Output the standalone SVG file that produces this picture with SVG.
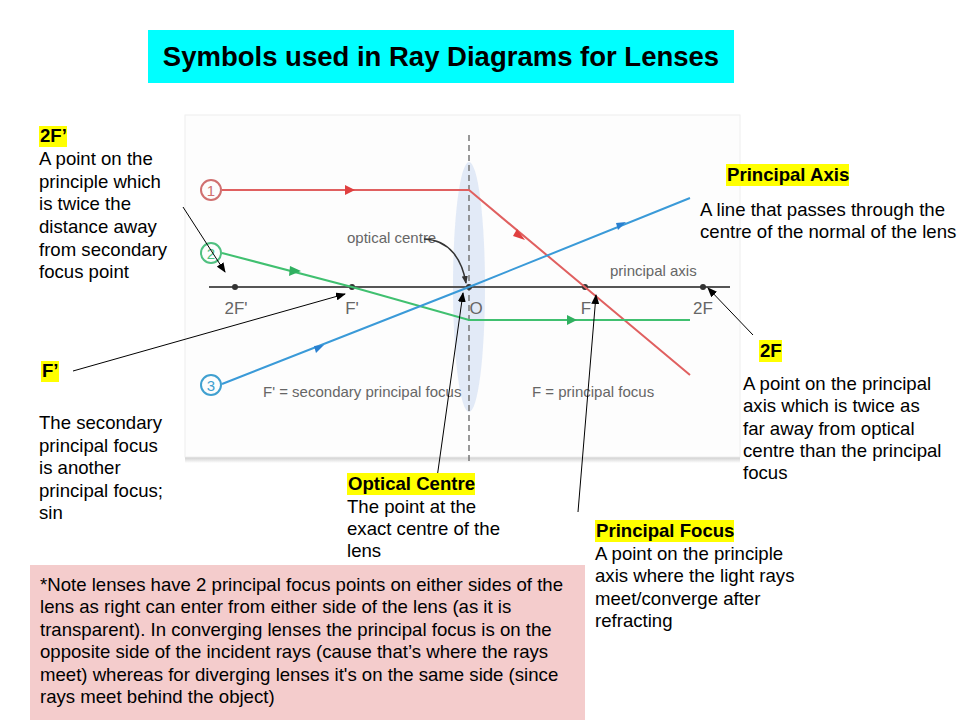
<svg xmlns="http://www.w3.org/2000/svg" width="960" height="720" viewBox="0 0 960 720">
<defs>
<style>
.t{font-family:"Liberation Sans",Arial,sans-serif;font-size:18.6px;fill:#000}
.b{font-weight:bold}
.hl{fill:#ffff00}
.g{font-family:"Liberation Sans Narrow","Liberation Sans",Arial,sans-serif;font-size:15px;fill:#666}
.ann{stroke:#000;stroke-width:1;fill:none;marker-end:url(#ah)}
</style>
<marker id="ah" markerWidth="10" markerHeight="8" refX="9" refY="4" orient="auto" markerUnits="userSpaceOnUse"><path d="M0,0 L10,4 L0,8 z" fill="#000"/></marker>
<marker id="ahs" markerWidth="8" markerHeight="6" refX="7" refY="3" orient="auto" markerUnits="userSpaceOnUse"><path d="M0,0 L8,3 L0,6 z" fill="#333"/></marker>
<linearGradient id="sh" x1="0" y1="0" x2="0" y2="1"><stop offset="0" stop-color="#bbb"/><stop offset="1" stop-color="#fff"/></linearGradient>
</defs>
<rect width="960" height="720" fill="#fff"/>
<g id="title"><rect x="148" y="30" width="586" height="53" fill="#00ffff"/><text x="441" y="66" text-anchor="middle" class="t b" style="font-size:27.5px">Symbols used in Ray Diagrams for Lenses</text></g>
<g id="panel">
<rect x="185" y="455" width="555" height="8" fill="url(#sh)"/>
<rect x="185" y="115" width="555" height="342" fill="#fdfdfd" stroke="#eee"/>
<ellipse cx="469" cy="287" rx="16" ry="125" fill="#dbe5f5" opacity="0.8"/>
<line x1="469" y1="135" x2="469" y2="465" stroke="#777" stroke-width="1.5" stroke-dasharray="6,4"/>
<line x1="209" y1="287" x2="730" y2="287" stroke="#555" stroke-width="2"/>
<g fill="#333"><circle cx="235" cy="287" r="3"/><circle cx="352" cy="287" r="3"/><circle cx="469" cy="287" r="3"/><circle cx="585" cy="287" r="3"/><circle cx="703" cy="287" r="3"/></g>
<g class="g" style="font-size:17px" text-anchor="middle"><text x="236" y="314">2F'</text><text x="352" y="314">F'</text><text x="476" y="314">O</text><text x="586" y="314">F</text><text x="703" y="314">2F</text></g>
<text class="g" x="347" y="243">optical centre</text>
<path d="M424,239 C450,240 462,260 466,283" stroke="#333" stroke-width="1.5" fill="none" marker-end="url(#ahs)"/>
<text class="g" x="610" y="276">principal axis</text>
<text class="g" x="263" y="397">F' = secondary principal focus</text>
<text class="g" x="532" y="397">F = principal focus</text>
<g fill="none" stroke-width="2">
<circle cx="211" cy="190" r="10" stroke="#d07070"/><circle cx="211" cy="253" r="10" stroke="#50c080"/><circle cx="211" cy="385" r="10" stroke="#40a0d0"/>
</g>
<g font-family="Liberation Sans,sans-serif" font-size="15" text-anchor="middle"><text x="211" y="196" fill="#d07070">1</text><text x="211" y="259" fill="#50c080">2</text><text x="211" y="391" fill="#40a0d0">3</text></g>
<g fill="none" stroke-width="2">
<polyline points="222,190 469,190 690,375" stroke="#e06060"/>
<polyline points="222,253 352,287 469,320 690,320" stroke="#40c070"/>
<polyline points="222,384 469,287 690,198" stroke="#3a9ad8"/>
</g>
<g><path d="M345,185 L355,190 L345,195z" fill="#e04040"/><path d="M517,229 L525,240 L513,236z" fill="#e04040"/>
<path d="M290,266 L301,271 L289,276z" fill="#30b060"/><path d="M567,315 L577,320 L567,325z" fill="#30b060"/>
<path d="M314,346 L324,345 L316,353z" fill="#2a80d0"/><path d="M616,223 L626,222 L618,230z" fill="#2a80d0"/></g>
</g>
<g id="connectors">
<line class="ann" x1="183" y1="207" x2="225" y2="272"/>
<line class="ann" x1="73" y1="371" x2="345" y2="294"/>
<line class="ann" x1="436" y1="485" x2="463" y2="293"/>
<line class="ann" x1="578" y1="512" x2="596" y2="295"/>
<line class="ann" x1="753" y1="335" x2="708" y2="288"/>
</g>
<g id="n2fp"><rect class="hl" x="39" y="126" width="28" height="21"/><text class="t b" x="40" y="142">2F’</text>
<text class="t"><tspan x="39" y="165">A point on the</tspan><tspan x="39" y="188">principle which</tspan><tspan x="39" y="210">is twice the</tspan><tspan x="39" y="233">distance away</tspan><tspan x="39" y="256">from secondary</tspan><tspan x="39" y="278">focus point</tspan></text></g>
<g id="nfp"><rect class="hl" x="41" y="361" width="18" height="21"/><text class="t b" x="42" y="377">F’</text>
<text class="t"><tspan x="39" y="429">The secondary</tspan><tspan x="39" y="452">principal focus</tspan><tspan x="39" y="474">is another</tspan><tspan x="39" y="497">principal focus;</tspan><tspan x="39" y="519">sin</tspan></text></g>
<g id="npa"><rect class="hl" x="726" y="164" width="123" height="22"/><text class="t b" x="727" y="181">Principal Axis</text>
<text class="t"><tspan x="700" y="216">A line that passes through the</tspan><tspan x="700" y="238">centre of the normal of the lens</tspan></text></g>
<g id="n2f"><rect class="hl" x="759" y="340" width="23" height="22"/><text class="t b" x="760" y="357">2F</text>
<text class="t"><tspan x="743" y="390">A point on the principal</tspan><tspan x="743" y="412">axis which is twice as</tspan><tspan x="743" y="435">far away from optical</tspan><tspan x="743" y="457">centre than the principal</tspan><tspan x="743" y="479">focus</tspan></text></g>
<g id="noc"><rect class="hl" x="347" y="473" width="128" height="22"/><text class="t b" x="348" y="490">Optical Centre</text>
<text class="t"><tspan x="347" y="513">The point at the</tspan><tspan x="347" y="535">exact centre of the</tspan><tspan x="347" y="557">lens</tspan></text></g>
<g id="npf"><rect class="hl" x="595" y="520" width="139" height="22"/><text class="t b" x="596" y="537">Principal Focus</text>
<text class="t"><tspan x="595" y="560">A point on the principle</tspan><tspan x="595" y="582">axis where the light rays</tspan><tspan x="595" y="605">meet/converge after</tspan><tspan x="595" y="627">refracting</tspan></text></g>
<g id="note"><rect x="30" y="565" width="555" height="155" fill="#f4cccc"/>
<text class="t"><tspan x="40" y="591">*Note lenses have 2 principal focus points on either sides of the</tspan><tspan x="40" y="613">lens as right can enter from either side of the lens (as it is</tspan><tspan x="40" y="636">transparent). In converging lenses the principal focus is on the</tspan><tspan x="40" y="658">opposite side of the incident rays (cause that’s where the rays</tspan><tspan x="40" y="681">meet) whereas for diverging lenses it's on the same side  (since</tspan><tspan x="40" y="703">rays meet behind the object)</tspan></text></g>
</svg>
